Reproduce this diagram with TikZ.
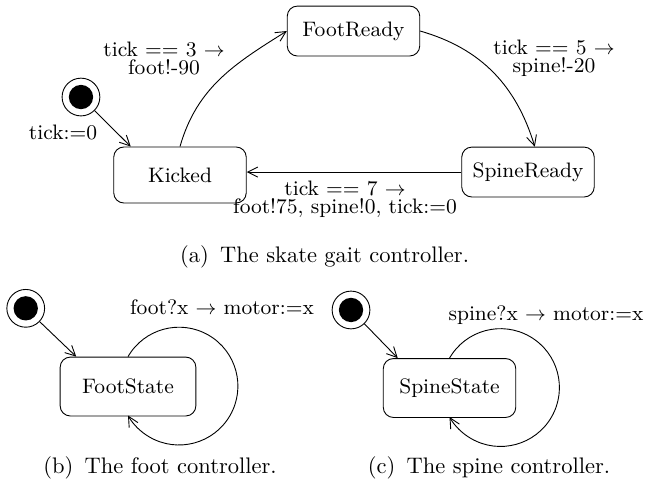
\documentclass[tikz,border=0pt]{standalone}
\usepackage{tikz}
\usetikzlibrary{arrows.meta, positioning}
\newcommand{\diagfont}{\fontsize{9.3}{8}\selectfont}

\begin{document}
\begin{tikzpicture}[
    state/.style={draw, rounded corners=4.5pt, minimum width=2.07cm, minimum height=0.78cm, inner sep=0pt, font=\diagfont},
    init/.style={circle, draw, minimum size=5.9mm, inner sep=0pt, path picture={\fill (path picture bounding box.center) circle (1.9mm);}},
    lbl/.style={align=center, font=\diagfont},
    trans/.style={-{Straight Barb[length=4.5pt,width=4.5pt]}},
    subcap/.style={font=\normalsize}
]
    \useasboundingbox (0,0) rectangle (10.077,7.640);

    % Skate gait controller
    \node[init] (init1) at (1.265,6.124) {};
    \node[state, minimum height=0.875cm] (kicked) at (2.812,4.906) {Kicked};
    \node[state] (footready) at (5.523,7.155) {FootReady};
    \node[state] (spineready) at (8.249,4.952) {SpineReady};

    \draw[trans] (init1) -- (kicked.150);
    \draw[trans] (kicked.north) to[out=74, in=212] (footready.west);
    \draw[trans] (footready.east) to[out=-16, in=107] (spineready.75);
    \draw[trans] (spineready.west) -- (spineready.west -| kicked.east);

    \node[lbl] (l0) at (0.984,5.577) {tick:=0};
    \node[lbl] (l3) at (2.562,6.733) {tick == 3 $\rightarrow$\\foot!-90};
    \node[lbl] (l5) at (8.655,6.733) {tick == 5 $\rightarrow$\\spine!-20};
    \node[lbl] (l7) at (5.390,4.531) {tick == 7 $\rightarrow$\\foot!75, spine!0, tick:=0};

    \node[subcap] (capa) at (5.070,3.625) {(a)\enspace The skate gait controller.};

    % Foot controller
    \node[init] (init2) at (0.402,2.823) {};
    \node[state, minimum width=2.12cm, minimum height=0.92cm] (footstate) at (2.000,1.601) {FootState};
    \draw[trans] (init2) -- (footstate.150);
    \draw[trans] (footstate.north) arc[start angle=150, end angle=-150, radius=0.92cm];
    \node[lbl] (lfoot) at (3.468,2.843) {foot?x $\rightarrow$ motor:=x};

    \node[subcap] (capb) at (2.500,0.328) {(b)\enspace The foot controller.};

    % Spine controller
    \node[init] (init3) at (5.484,2.797) {};
    \node[state, minimum height=0.92cm] (spinestate) at (7.023,1.578) {SpineState};
    \draw[trans] (init3) -- (spinestate.150);
    \draw[trans] (spinestate.north) arc[start angle=150, end angle=-150, radius=0.92cm];
    \node[lbl] (lspine) at (8.530,2.718) {spine?x $\rightarrow$ motor:=x};

    \node[subcap] (capc) at (7.640,0.328) {(c)\enspace The spine controller.};
\end{tikzpicture}
\end{document}
